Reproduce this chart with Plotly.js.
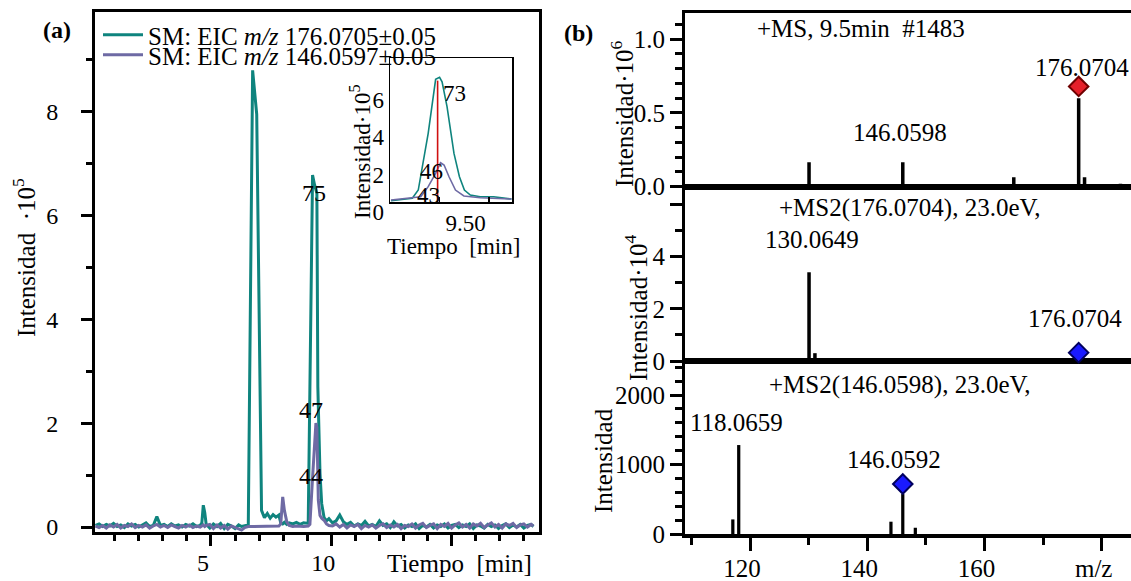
<!DOCTYPE html>
<html><head><meta charset="utf-8">
<script src="https://cdn.plot.ly/plotly-3.0.1.min.js"></script>
<style>html,body{margin:0;padding:0;background:#fff}#chart{width:1131px;height:581px}</style>
</head><body><div id="chart"></div>
<script>
// ---------- (a) extracted ion chromatograms ----------
const timeMin = [
0.20,0.35,0.50,0.65,0.80,0.95,1.10,1.25,1.40,1.55,
1.70,1.85,2.00,2.15,2.30,2.45,2.60,2.75,2.90,3.05,
3.20,3.35,3.50,3.65,3.80,3.95,4.10,4.25,4.40,4.55,
4.62,4.68,4.74,4.80,
4.95,5.10,5.25,5.40,5.55,5.70,5.85,6.00,6.15,6.27,6.40,6.55,
6.73,6.90,7.10,
7.22,7.34,7.46,7.58,7.70,7.82,7.90,7.98,8.05,8.15,8.25,8.40,8.55,8.70,8.85,9.04,
9.11,9.22,9.30,9.36,9.40,9.44,9.46,9.53,9.60,9.70,9.80,9.90,
10.05,10.20,10.35,10.50,10.65,10.80,10.95,11.10,11.25,11.40,
11.55,11.70,11.85,12.00,12.15,12.30,12.45,12.60,12.75,12.90,
13.05,13.20,13.35,13.50,13.65,13.80,13.95,14.10,14.25,14.40,
14.55,14.70,14.85,15.00,15.15,15.30,15.45,15.60,15.75,15.90,
16.05,16.20,16.35,16.50,16.65,16.80,16.95,17.10,17.25,17.40,
17.55,17.70,17.85,18.00,18.15,18.30,18.40
];
// EIC m/z 176.0705 (x10^5)
const eic176 = [
0.03,0.06,0.01,0.05,0.02,0.07,0.01,0.04,-0.01,0.06,
0.02,0.05,0.00,0.04,0.08,0.01,0.03,0.20,0.03,0.05,
0.01,0.06,0.02,0.04,0.00,0.05,0.02,0.06,0.01,0.03,
0.08,0.42,0.28,0.05,
-0.02,0.06,0.01,0.07,-0.03,0.05,0.02,-0.03,0.04,0.01,0.03,0.04,
8.80,7.95,0.32,
0.18,0.26,0.17,0.24,0.19,0.23,0.08,0.06,0.09,0.05,0.08,0.06,0.09,0.05,0.08,0.07,
2.65,6.78,6.60,6.50,6.43,2.70,2.20,1.03,0.45,0.18,0.12,0.16,
0.08,0.12,0.23,0.10,0.05,0.09,0.02,0.06,0.03,0.11,
0.02,0.05,0.01,0.12,0.03,0.06,-0.01,0.10,0.02,0.05,
-0.02,0.04,0.01,0.06,-0.03,0.03,0.00,0.05,-0.02,0.04,
0.01,0.06,-0.02,0.03,0.05,-0.01,0.04,0.01,0.06,-0.03,
0.04,0.02,-0.02,0.05,0.01,0.04,-0.03,0.03,0.06,-0.01,
0.04,0.00,0.05,-0.02,0.03,0.05,0.01
];
// EIC m/z 146.0597 (x10^5)
const eic146 = [
0.02,-0.01,0.03,-0.02,0.04,0.00,0.05,-0.02,0.03,0.01,
0.06,-0.01,0.03,0.00,0.04,-0.02,0.02,0.05,0.00,0.03,
-0.01,0.04,0.01,-0.02,0.03,0.00,0.04,-0.01,0.02,0.00,
0.02,0.04,0.01,0.03,
0.05,-0.03,0.04,-0.02,0.03,-0.04,0.02,-0.01,-0.03,-0.06,-0.01,0.01,
0.01,0.01,0.01,
0.01,0.01,0.01,0.01,0.01,0.02,0.06,0.58,0.32,0.10,0.03,0.01,0.02,0.01,0.01,0.02,
0.05,0.95,1.55,2.00,1.92,0.90,0.52,0.22,0.17,0.13,0.06,0.03,
0.02,0.06,0.00,0.05,-0.02,0.04,0.01,0.05,-0.03,0.03,
0.00,0.04,-0.02,0.03,0.06,-0.01,0.04,0.00,0.05,-0.03,
0.03,0.01,0.06,-0.02,0.04,0.07,-0.01,0.03,0.06,-0.03,
0.05,0.01,0.07,-0.02,0.04,0.08,0.00,0.05,-0.02,0.06,
0.02,0.07,-0.01,0.04,0.08,0.00,0.05,-0.02,0.06,0.03,
0.07,-0.01,0.04,0.06,0.00,0.05,0.02
];
const legendNames = ["SM: EIC <i>m/z</i> 176.0705\u00b10.05", "SM: EIC <i>m/z</i> 146.0597\u00b10.05"];
const peakLabelsA = ["75", "47", "44"];

// inset (zoom on 9.5 min)
const insetT176 = [9.402,9.445,9.457,9.477,9.492,9.500,9.505,9.515,9.529,9.540,9.550,9.562,9.582,9.609,9.645];
const insetY176 = [0.07,0.20,0.64,3.67,6.56,6.67,6.43,5.10,2.60,1.35,0.64,0.37,0.28,0.28,0.16];
const insetT146 = [9.402,9.462,9.477,9.492,9.502,9.509,9.519,9.532,9.549,9.582,9.645];
const insetY146 = [0.11,0.28,0.82,1.53,2.10,1.98,1.35,0.64,0.32,0.23,0.16];
const insetMarkT = [9.496, 9.496];
const insetMarkY = [0, 6.49];
const insetLabels = ["73", "46", "43"];

// ---------- (b) mass spectra ----------
const ms1Mz  = [130.0649, 146.0598, 165.0, 176.0704, 177.074, 183.2];
const ms1Int = [0.165, 0.165, 0.064, 0.600, 0.064, 0.02];       // x10^6
const ms1PrecMz = [176.0704], ms1PrecInt = [0.68];
const ms2aMz  = [130.0649, 131.07];
const ms2aInt = [3.40, 0.30];                                    // x10^4
const ms2aPrecMz = [176.0704], ms2aPrecInt = [0.32];
const ms2bMz  = [117.06, 118.0659, 144.04, 146.0592, 148.2];
const ms2bInt = [210, 1280, 177, 575, 90];
const ms2bPrecMz = [146.0592], ms2bPrecInt = [720];
const mzTickVals = [120, 140, 160, 180];
const mzTickText = ["120", "140", "160", "m/z"];

// ---------- layout helpers ----------
const W = 1131, H = 581;
const px = v => v / W, py = v => 1 - v / H;
const FONT = "Liberation Serif";
const TEAL = "#0f847e", PURP = "#6e6aa4";

const traces = [
  {x: timeMin, y: eic176, type: "scatter", mode: "lines", name: legendNames[0], legend: "legend",
   line: {color: TEAL, width: 3}, xaxis: "x", yaxis: "y", hoverinfo: "skip"},
  {x: timeMin, y: eic146, type: "scatter", mode: "lines", name: legendNames[1], legend: "legend2",
   line: {color: PURP, width: 3}, xaxis: "x", yaxis: "y", hoverinfo: "skip"},
  {x: insetT176, y: insetY176, type: "scatter", mode: "lines", showlegend: false,
   line: {color: TEAL, width: 1.6}, xaxis: "x2", yaxis: "y2"},
  {x: insetT146, y: insetY146, type: "scatter", mode: "lines", showlegend: false,
   line: {color: PURP, width: 1.6}, xaxis: "x2", yaxis: "y2"},
  {x: insetMarkT, y: insetMarkY, type: "scatter", mode: "lines", showlegend: false,
   line: {color: "#d01010", width: 1.6}, xaxis: "x2", yaxis: "y2"},
  // spectra
  {x: ms1Mz, y: ms1Int, type: "bar", width: 0.6, marker: {color: "black", line: {width: 0}},
   showlegend: false, xaxis: "x4", yaxis: "y3"},
  {x: ms1PrecMz, y: ms1PrecInt, type: "scatter", mode: "markers", showlegend: false, cliponaxis: false,
   marker: {symbol: "diamond", size: 15, color: "#e5202a", line: {color: "#6e0000", width: 2}},
   xaxis: "x4", yaxis: "y3"},
  {x: ms2aMz, y: ms2aInt, type: "bar", width: 0.6, marker: {color: "black", line: {width: 0}},
   showlegend: false, xaxis: "x3", yaxis: "y4"},
  {x: ms2aPrecMz, y: ms2aPrecInt, type: "scatter", mode: "markers", showlegend: false, cliponaxis: false,
   marker: {symbol: "diamond", size: 15, color: "#1a1aff", line: {color: "#00005e", width: 2}},
   xaxis: "x3", yaxis: "y4"},
  {x: ms2bMz, y: ms2bInt, type: "bar", width: 0.55, marker: {color: "black", line: {width: 0}},
   showlegend: false, xaxis: "x3", yaxis: "y5"},
  {x: ms2bPrecMz, y: ms2bPrecInt, type: "scatter", mode: "markers", showlegend: false, cliponaxis: false,
   marker: {symbol: "diamond", size: 15, color: "#1a1aff", line: {color: "#00005e", width: 2}},
   xaxis: "x3", yaxis: "y5"}
];

const axBase = {showgrid: false, zeroline: false, showline: true, linecolor: "black",
  tickcolor: "black", tickfont: {family: FONT, size: 24, color: "black"}};

function ann(text, x, y, size, extra) {
  return Object.assign({text: text, x: px(x), y: py(y), xref: "paper", yref: "paper",
    showarrow: false, xanchor: "center", yanchor: "middle",
    font: {family: FONT, size: size, color: "black"}}, extra || {});
}

const layout = {
  width: W, height: H, margin: {l: 0, r: 0, t: 0, b: 0},
  paper_bgcolor: "white", plot_bgcolor: "rgba(0,0,0,0)",
  font: {family: FONT, color: "black"},
  showlegend: true,
  legend: {x: px(98), y: py(35), xanchor: "left", yanchor: "middle", bgcolor: "rgba(0,0,0,0)",
    font: {family: FONT, size: 25, color: "black"}, itemwidth: 40, borderwidth: 0},
  legend2: {x: px(98), y: py(55), xanchor: "left", yanchor: "middle", bgcolor: "rgba(0,0,0,0)",
    font: {family: FONT, size: 25, color: "black"}, itemwidth: 40, borderwidth: 0},
  xaxis: Object.assign({}, axBase, {domain: [px(95), px(539)], range: [0.18, 18.63], anchor: "y",
    linewidth: 3, mirror: true, ticks: "outside", ticklen: 11, tickwidth: 3,
    tickmode: "array", tickvals: [5, 10, 15], ticktext: ["5", "10", ""],
    minor: {dtick: 1, tick0: 0, ticks: "outside", ticklen: 6, tickwidth: 3, tickcolor: "black"},
    ticklabelshift: -8, ticklabelstandoff: -4}),
  yaxis: Object.assign({}, axBase, {domain: [py(532), py(12)], range: [-0.096, 9.923], anchor: "x",
    linewidth: 3, mirror: true, ticks: "outside", ticklen: 11, tickwidth: 3,
    tickmode: "array", tickvals: [0, 2, 4, 6, 8],
    minor: {dtick: 1, tick0: 0, ticks: "outside", ticklen: 6, tickwidth: 3, tickcolor: "black"},
    ticklabelstandoff: 18}),
  xaxis2: Object.assign({}, axBase, {domain: [px(390), px(512)], range: [9.40, 9.646], anchor: "y2",
    linewidth: 1.5, mirror: true, ticks: "inside", ticklen: 5, tickwidth: 1.5,
    tickmode: "array", tickvals: [9.4, 9.5, 9.6], ticktext: ["", "9.50", ""],
    tickfont: {family: FONT, size: 23, color: "black"}, ticklabelshift: 26}),
  yaxis2: Object.assign({}, axBase, {domain: [py(202), py(58)], range: [0, 7.7], anchor: "x2",
    linewidth: 1.5, mirror: true, ticks: "",
    tickmode: "array", tickvals: [0, 2, 4, 6],
    tickfont: {family: FONT, size: 23, color: "black"}, ticklabelshift: 10}),
  xaxis3: Object.assign({}, axBase, {domain: [px(685), 1], range: [108.9, 185.0], anchor: "y5",
    linewidth: 4, ticks: "outside", ticklen: 13, tickwidth: 3,
    tickmode: "array", tickvals: mzTickVals, ticktext: mzTickText,
    minor: {dtick: 10, tick0: 0, ticks: "outside", ticklen: 7, tickwidth: 3, tickcolor: "black"},
    tickfont: {family: FONT, size: 25, color: "black"}, ticklabelshift: -8, ticklabelstandoff: -4}),
  xaxis4: Object.assign({}, axBase, {matches: "x3", domain: [px(685), 1], anchor: "y3", side: "top",
    linewidth: 3, ticks: "", showticklabels: false}),
  yaxis3: Object.assign({}, axBase, {domain: [py(191.1), py(13.3)], range: [-0.03, 1.176], anchor: "x4",
    linewidth: 3, ticks: "outside", ticklen: 12, tickwidth: 3,
    tickmode: "array", tickvals: [0, 0.5, 1.0], ticktext: ["0.0", "0.5", "1.0"],
    minor: {dtick: 0.1, tick0: 0, ticks: "outside", ticklen: 7, tickwidth: 3, tickcolor: "black"},
    tickfont: {family: FONT, size: 25, color: "black"},
    zeroline: true, zerolinewidth: 6, zerolinecolor: "black"}),
  yaxis4: Object.assign({}, axBase, {domain: [py(365), py(191.1)], range: [-0.153, 6.51], anchor: "x3",
    linewidth: 3, ticks: "outside", ticklen: 12, tickwidth: 3,
    tickmode: "array", tickvals: [0, 2, 4, 6], ticktext: ["0", "2", "4", ""],
    minor: {dtick: 1, tick0: 0, ticks: "outside", ticklen: 7, tickwidth: 3, tickcolor: "black"},
    tickfont: {family: FONT, size: 25, color: "black"},
    zeroline: true, zerolinewidth: 6, zerolinecolor: "black"}),
  yaxis5: Object.assign({}, axBase, {domain: [py(534), py(365)], range: [0, 2432], anchor: "x3",
    linewidth: 3, ticks: "outside", ticklen: 12, tickwidth: 3,
    tickmode: "array", tickvals: [0, 1000, 2000],
    minor: {dtick: 200, tick0: 0, ticks: "outside", ticklen: 7, tickwidth: 3, tickcolor: "black"},
    tickfont: {family: FONT, size: 25, color: "black"}}),
  annotations: [
    ann("<b>(a)</b>", 57, 30, 24),
    ann("<b>(b)</b>", 578, 33, 24),
    ann("Intensidad \u00a0\u00b710<sup>5</sup>", 24, 258, 25, {textangle: -90}),
    ann("Tiempo\u00a0 [min]", 459, 563, 25),
    ann(peakLabelsA[0], 314, 193, 24),
    ann(peakLabelsA[1], 311, 410, 24),
    ann(peakLabelsA[2], 311, 476, 24),
    ann(insetLabels[0], 454, 93, 23),
    ann(insetLabels[1], 432, 172, 23),
    ann(insetLabels[2], 428, 195, 23),
    ann("Intensidad\u00b710<sup>5</sup>", 360, 152, 23, {textangle: -90}),
    ann("Tiempo\u00a0 [min]", 453, 247, 23),
    ann("+MS, 9.5min\u00a0 #1483", 861, 28, 25),
    ann("146.0598", 900, 133, 25),
    ann("176.0704", 1082, 67, 25),
    ann("+MS2(176.0704), 23.0eV,", 910, 208, 25),
    ann("130.0649", 812, 240, 25),
    ann("176.0704", 1075, 318, 25),
    ann("+MS2(146.0598), 23.0eV,", 900, 385, 25),
    ann("118.0659", 736, 422, 25),
    ann("146.0592", 894, 460, 25),
    ann("Intensidad\u00b710<sup>6</sup>", 622, 114, 25, {textangle: -90}),
    ann("Intensidad\u00b710<sup>4</sup>", 636, 308, 25, {textangle: -90}),
    ann("Intensidad", 603, 461, 25, {textangle: -90})
  ]
};

Plotly.newPlot("chart", traces, layout, {displayModeBar: false, staticPlot: true});
</script></body></html>
